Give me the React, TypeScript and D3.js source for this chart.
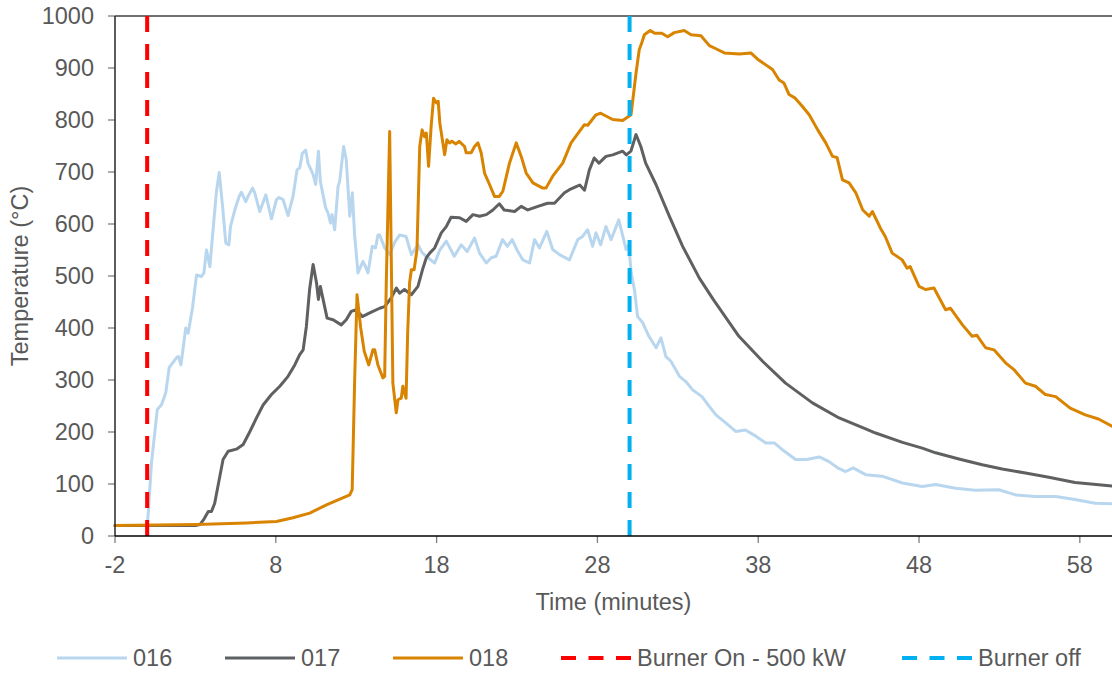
import React from "react";
import * as d3 from "d3";

type P = [number, number];

const xTicks = [-2, 8, 18, 28, 38, 48, 58];
const yTicks = [0, 100, 200, 300, 400, 500, 600, 700, 800, 900, 1000];
const burnerOn = 0;
const burnerOff = 30;

const s016: P[] = [[-2,20],[0,20],[0.07,45],[0.27,141],[0.63,243],[0.9,253],[1.16,276],[1.37,324],[1.83,343],[1.95,345],[2.1,329],[2.4,400],[2.55,390],[2.82,439],[3.07,502],[3.38,499],[3.53,506],[3.69,550],[3.9,518],[4.1,589],[4.3,660],[4.48,699],[4.69,634],[4.89,563],[5.08,560],[5.18,595],[5.45,627],[5.72,653],[5.86,661],[6.13,643],[6.27,653],[6.55,669],[6.69,660],[7.0,624],[7.38,656],[7.73,610],[8.04,647],[8.2,651],[8.45,647],[8.76,616],[9.07,653],[9.32,704],[9.49,708],[9.65,736],[9.86,742],[10.0,717],[10.32,695],[10.48,676],[10.65,740],[10.77,682],[11.1,631],[11.25,621],[11.4,602],[11.5,618],[11.66,589],[11.87,672],[11.97,682],[12.22,749],[12.38,724],[12.6,615],[12.76,660],[12.9,579],[13.11,506],[13.42,528],[13.55,520],[13.73,506],[14.0,557],[14.2,554],[14.35,579],[14.46,579],[14.77,554],[15.08,541],[15.4,565],[15.7,579],[16.1,576],[16.43,541],[16.84,560],[17.1,545],[17.46,535],[17.88,525],[18.2,550],[18.6,567],[19.1,538],[19.53,560],[19.9,547],[20.36,573],[20.67,544],[21.09,525],[21.4,535],[21.7,538],[22.1,570],[22.4,557],[22.7,570],[23.0,550],[23.36,531],[23.78,525],[24.09,570],[24.4,554],[24.85,586],[25.22,551],[25.64,541],[26.26,531],[26.78,570],[27.08,576],[27.39,589],[27.7,557],[27.91,583],[28.2,560],[28.53,595],[28.85,570],[29.33,608],[29.78,551],[29.95,560],[30.1,506],[30.3,474],[30.5,422],[30.82,410],[31.2,384],[31.65,362],[31.95,381],[32.26,345],[32.57,336],[33.1,307],[33.5,297],[33.92,281],[34.5,268],[34.96,249],[35.37,233],[36.0,217],[36.6,201],[37.2,204],[37.85,192],[38.47,179],[39.0,179],[39.5,166],[40.33,147],[41.0,147],[41.8,152],[42.4,143],[43.0,130],[43.44,124],[43.9,131],[44.68,118],[45.7,115],[46.97,102],[48.2,95],[49.03,99],[50.27,92],[51.5,88],[52.97,89],[54.0,79],[55.24,76],[56.5,76],[57.7,70],[58.94,63],[60,62]];

const s017: P[] = [[-2,20],[3.0,20],[3.28,22],[3.5,31],[3.8,47],[4.0,47],[4.2,63],[4.52,115],[4.72,147],[5.04,163],[5.55,167],[5.97,176],[6.39,201],[6.8,227],[7.21,252],[7.73,272],[8.25,288],[8.76,307],[9.18,329],[9.49,349],[9.7,358],[9.9,403],[10.1,474],[10.32,522],[10.53,487],[10.65,455],[10.77,480],[10.94,455],[11.19,419],[11.56,416],[12.07,406],[12.38,416],[12.69,432],[13.0,435],[13.38,422],[13.84,429],[14.46,438],[14.77,441],[15.18,458],[15.5,477],[15.7,467],[16.0,474],[16.43,464],[16.84,480],[17.15,515],[17.36,535],[17.57,544],[17.88,554],[18.29,583],[18.6,595],[18.9,613],[19.43,612],[19.84,605],[20.26,618],[20.67,615],[21.09,618],[21.5,627],[21.9,639],[22.2,627],[22.85,624],[23.26,634],[23.67,627],[24.3,634],[24.9,640],[25.33,640],[25.64,650],[25.95,660],[26.26,666],[26.68,672],[26.9,675],[27.2,665],[27.5,704],[27.8,727],[28.1,717],[28.53,730],[28.95,733],[29.57,740],[29.8,733],[30.08,740],[30.4,772],[30.7,749],[31.0,717],[31.64,676],[32.47,615],[33.3,557],[34.34,496],[35.2,455],[36.8,384],[38.27,336],[39.7,294],[41.37,256],[43.03,227],[44.68,206],[45.3,198],[46.97,180],[48.2,169],[49.03,160],[50.48,148],[51.93,137],[53.17,129],[54.62,121],[56.07,113],[57.7,103],[60,96]];

const s018: P[] = [[-2,20],[3.07,22],[6.17,25],[8.04,28],[9.07,35],[10.11,44],[11.15,60],[12.6,79],[12.75,89],[12.9,295],[13.05,464],[13.28,400],[13.5,355],[13.78,329],[14.04,358],[14.15,358],[14.35,329],[14.66,304],[14.77,307],[14.87,487],[15.08,778],[15.28,294],[15.49,237],[15.6,262],[15.8,265],[15.9,288],[16.1,265],[16.2,390],[16.32,487],[16.43,512],[16.6,512],[16.78,551],[16.95,749],[17.1,781],[17.25,768],[17.36,775],[17.5,711],[17.66,788],[17.81,842],[17.98,833],[18.1,836],[18.2,794],[18.5,733],[18.64,762],[18.8,756],[18.95,759],[19.2,754],[19.4,759],[19.74,749],[19.84,737],[20.15,737],[20.36,749],[20.57,756],[20.77,737],[20.98,698],[21.29,676],[21.6,653],[21.9,653],[22.12,663],[22.53,717],[22.95,756],[23.26,730],[23.57,698],[23.99,679],[24.6,669],[24.8,669],[25.22,692],[25.84,717],[26.36,756],[27.19,791],[27.4,790],[27.91,810],[28.2,813],[28.95,801],[29.57,799],[30.09,810],[30.4,890],[30.6,935],[30.72,945],[30.92,964],[31.28,972],[31.55,967],[32.0,967],[32.37,960],[32.78,968],[33.4,972],[33.82,964],[34.44,962],[34.96,943],[35.37,937],[35.89,929],[36.82,927],[37.54,929],[37.96,917],[38.47,906],[38.89,897],[39.3,877],[39.6,871],[39.92,849],[40.3,842],[40.75,826],[41.17,810],[41.7,781],[42.2,756],[42.62,730],[42.9,728],[43.24,685],[43.65,679],[44.07,660],[44.5,627],[44.9,615],[45.1,624],[45.6,592],[45.9,576],[46.33,544],[46.95,531],[47.26,515],[47.45,518],[48.0,480],[48.4,474],[48.93,477],[49.65,435],[49.95,438],[50.7,406],[51.3,384],[51.6,386],[52.14,362],[52.66,358],[53.38,333],[53.9,320],[54.62,294],[55.24,288],[55.86,272],[56.5,268],[57.4,246],[58.34,233],[59.16,225],[60,211]];

const seriesNames = ["016", "017", "018"];
const seriesData = [s016, s017, s018];
const seriesColors = ["#b9d6ef", "#5f6062", "#d98400"];
const refNames = ["Burner On - 500 kW", "Burner off"];
const refColors = ["#ff0000", "#00b0f0"];

const W = 1112, H = 673;
const L = 115, R = 1112, T = 16, B = 536;
const FONT = "'Liberation Sans', Arial, sans-serif";
const TXT = "#595959";

export default function App() {
  const x = d3.scaleLinear().domain([-2, 60]).range([L, R]);
  const y = d3.scaleLinear().domain([0, 1000]).range([B, T]);
  const line = d3.line<P>().x(d => x(d[0])).y(d => y(d[1]));
  const fs = 23.5;

  const legendItems = [
    { label: seriesNames[0], color: seriesColors[0], dash: false, x0: 57 },
    { label: seriesNames[1], color: seriesColors[1], dash: false, x0: 225 },
    { label: seriesNames[2], color: seriesColors[2], dash: false, x0: 393 },
    { label: refNames[0], color: refColors[0], dash: true, x0: 561 },
    { label: refNames[1], color: refColors[1], dash: true, x0: 902 },
  ];
  const ly = 658;

  return (
    <svg width={W} height={H} style={{ position: "absolute", left: 0, top: 0, background: "#fff" }} fontFamily={FONT}>
      <rect x={0} y={0} width={W} height={H} fill="#fff" />
      <line x1={L} x2={R} y1={T} y2={T} stroke="#404040" strokeWidth={1.3} />
      {yTicks.map(v => (
        <g key={"y" + v}>
          <line x1={L - 7} x2={L} y1={y(v)} y2={y(v)} stroke="#7f7f7f" strokeWidth={1.3} />
          <text x={94} y={y(v)} dy="0.35em" textAnchor="end" fontSize={fs} fill={TXT}>{v}</text>
        </g>
      ))}
      {xTicks.map(v => (
        <g key={"x" + v}>
          <line x1={x(v)} x2={x(v)} y1={B} y2={B + 7} stroke="#7f7f7f" strokeWidth={1.3} />
          <text x={x(v)} y={573} textAnchor="middle" fontSize={fs} fill={TXT}>{v}</text>
        </g>
      ))}
      {seriesData.map((s, i) => (
        <path key={seriesNames[i]} d={line(s) || ""} fill="none" stroke={seriesColors[i]} strokeWidth={3} strokeLinejoin="round" strokeLinecap="round" />
      ))}
      {[burnerOn, burnerOff].map((t, i) => (
        <line key={"r" + i} x1={x(t)} x2={x(t)} y1={T} y2={B} stroke={refColors[i]} strokeWidth={4} strokeDasharray="16 12" />
      ))}
      <line x1={L} x2={L} y1={T} y2={B} stroke="#262626" strokeWidth={1.5} />
      <line x1={L} x2={R} y1={B} y2={B} stroke="#000" strokeWidth={1.5} />
      <text x={(L + R) / 2} y={610} textAnchor="middle" fontSize={fs} fill={TXT}>Time (minutes)</text>
      <text transform={`translate(28,${(T + B) / 2}) rotate(-90)`} textAnchor="middle" fontSize={fs} fill={TXT}>Temperature (°C)</text>
      {legendItems.map(it => (
        <g key={it.label}>
          <line x1={it.x0} x2={it.x0 + 70} y1={ly} y2={ly} stroke={it.color} strokeWidth={it.dash ? 4 : 3} strokeDasharray={it.dash ? "15 12.5" : undefined} />
          <text x={it.x0 + 76} y={ly} dy="0.35em" fontSize={fs} fill={TXT}>{it.label}</text>
        </g>
      ))}
    </svg>
  );
}
